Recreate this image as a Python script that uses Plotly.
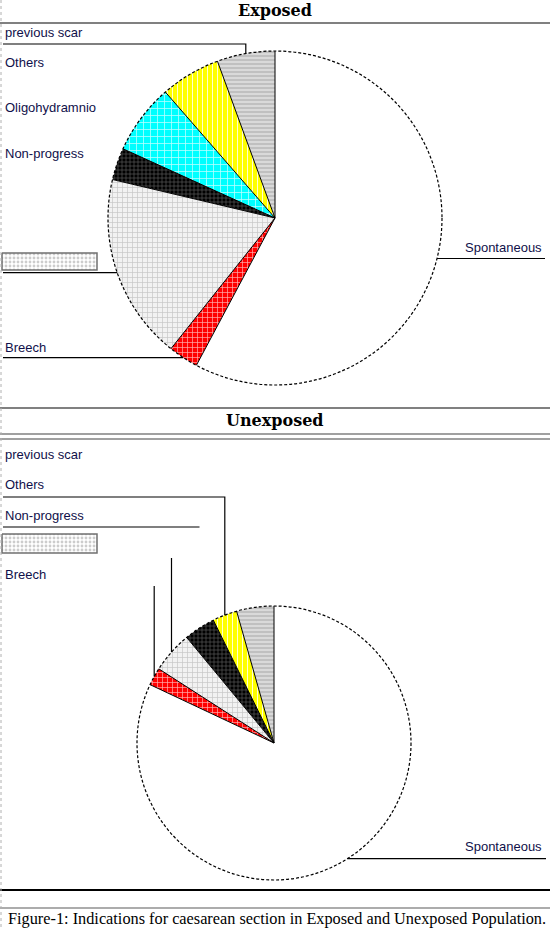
import math
import plotly.graph_objects as go

# slice order follows the pie, counterclockwise from 12 o'clock
labels_exposed = ["previous scar", "Others", "Oligohydramnio", "Non-progress",
                  "unlabelled", "Breech", "Spontaneous"]
values_exposed = [5.6, 5.8, 6.8, 3.1, 18.0, 2.9, 57.8]

labels_unexposed = ["previous scar", "Others", "Non-progress",
                    "unlabelled", "Breech", "Spontaneous"]
values_unexposed = [4.4, 2.9, 3.7, 4.9, 2.1, 82.0]

W, H = 550, 929

# look of each indication
style = {
    "previous scar":  dict(bg="#c0c0c0", fg="#e4e4e4", shape="-", size=4, sol=0.35),
    "Others":         dict(bg="#ffff00", fg="#ffffd0", shape="|", size=5, sol=0.2),
    "Oligohydramnio": dict(bg="#00ffff", fg="#c0ffff", shape="+", size=7, sol=0.2),
    "Non-progress":   dict(bg="#000000", fg="#5a5a5a", shape="+", size=4, sol=0.3),
    "unlabelled":     dict(bg="#f2f2f2", fg="#c4c4c4", shape="+", size=5, sol=0.25),
    "Breech":         dict(bg="#ff0000", fg="#ffb0b0", shape="+", size=5, sol=0.25),
    "Spontaneous":    dict(bg="#ffffff", fg="#ffffff", shape="", size=4, sol=0.2),
}


def pie_trace(labels, values, cx, cy, r):
    st = [style[l] for l in labels]
    # plotly ends the first counterclockwise slice at the rotation angle
    rot = -values[0] / sum(values) * 360
    return go.Pie(
        labels=labels, values=values, sort=False, direction="counterclockwise",
        rotation=rot, textinfo="none", hoverinfo="label+percent", showlegend=False,
        domain=dict(x=[(cx - r) / W, (cx + r) / W],
                    y=[1 - (cy + r) / H, 1 - (cy - r) / H]),
        marker=dict(
            colors=[s["bg"] for s in st],
            line=dict(width=0),
            pattern=dict(shape=[s["shape"] for s in st],
                         fgcolor=[s["fg"] for s in st],
                         bgcolor=[s["bg"] for s in st],
                         size=[s["size"] for s in st],
                         solidity=[s["sol"] for s in st],
                         fillmode="replace"),
        ),
    )


def arc_point(deg, cx, cy, r):
    a = math.radians(deg)
    return cx - r * math.sin(a), cy - r * math.cos(a)


def geometry(labels, values, cx, cy, r):
    tot = sum(values)
    edges, mids, acc = [0.0], {}, 0.0
    for l, v in zip(labels, values):
        mids[l] = arc_point((acc + v / 2) / tot * 360, cx, cy, r)
        acc += v
        edges.append(acc / tot * 360)
    return edges, mids


shapes = []


def outline(labels, values, cx, cy, r):
    edges, mids = geometry(labels, values, cx, cy, r)
    shapes.append(dict(type="circle", xref="x", yref="y", x0=cx - r, x1=cx + r,
                       y0=cy - r, y1=cy + r, layer="above",
                       line=dict(color="black", width=1.2, dash="3px,2px")))
    for e in edges[:-1]:
        x, y = arc_point(e, cx, cy, r)
        shapes.append(dict(type="line", xref="x", yref="y", x0=cx, y0=cy, x1=x, y1=y,
                           layer="above", line=dict(color="black", width=1)))
    return mids


def leader(pts):
    path = "M " + " L ".join(f"{x:.1f},{y:.1f}" for x, y in pts)
    shapes.append(dict(type="path", xref="x", yref="y", path=path, layer="above",
                       line=dict(color="black", width=1.2)))


CX_E, CY_E, R_E = 275, 218, 167
CX_U, CY_U, R_U = 274, 743, 137

fig = go.Figure()
fig.add_trace(pie_trace(labels_exposed, values_exposed, CX_E, CY_E, R_E))
fig.add_trace(pie_trace(labels_unexposed, values_unexposed, CX_U, CY_U, R_U))

me = outline(labels_exposed, values_exposed, CX_E, CY_E, R_E)
mu = outline(labels_unexposed, values_unexposed, CX_U, CY_U, R_U)

# leader lines, exposed
x, y = me["previous scar"]; leader([(3, 44), (x, 44), (x, y)])
x, y = me["unlabelled"]; leader([(3, y), (x, y)])
x, y = me["Breech"]; leader([(3, y), (x, y)])
x, y = me["Spontaneous"]; leader([(545, y), (x, y)])
# leader lines, unexposed
x, y = mu["Others"]; leader([(3, 497), (x, 497), (x, y)])
x, y = mu["Non-progress"]; leader([(3, 527), (x, 527)])
x, y = mu["unlabelled"]; leader([(x, 558), (x, y)])
x, y = mu["Breech"]; leader([(x, 586), (x, y)])
x, y = mu["Spontaneous"]; leader([(546, y), (x, y)])

# dotted boxes standing in for the unnamed indication
for y0, y1 in [(253, 270), (534, 553)]:
    fig.add_trace(go.Scatter(
        x=[2, 97, 97, 2, 2], y=[y0, y0, y1, y1, y0], mode="lines", fill="toself",
        fillcolor="white", line=dict(color="#707070", width=1.5),
        fillpattern=dict(shape=".", fgcolor="#9a9a9a", bgcolor="white", size=4, solidity=0.4),
        hoverinfo="skip", showlegend=False))

# frame rules
rules = [(23, "#808080", 2), (408, "#808080", 2), (434, "#808080", 1.5),
         (439, "#808080", 1.5), (890, "black", 2), (908, "#909090", 1.5)]
for yy, col, wd in rules:
    shapes.append(dict(type="line", xref="x", yref="y", x0=0, x1=W, y0=yy, y1=yy,
                       layer="above", line=dict(color=col, width=wd)))
shapes.append(dict(type="line", xref="x", yref="y", x0=1, x1=1, y0=0, y1=H,
                   layer="above", line=dict(color="#b0b0b0", width=1, dash="dot")))

sans = dict(family="Liberation Sans, Arial, sans-serif", size=13, color="#10104a")
annotations = []
for txt, yy in [("previous scar", 32), ("Others", 62), ("Oligohydramnio", 107),
                ("Non-progress", 153), ("Breech", 347),
                ("previous scar", 454), ("Others", 484), ("Non-progress", 515),
                ("Breech", 574)]:
    annotations.append(dict(text=txt, x=3, y=yy, xref="x", yref="y", xanchor="left",
                            yanchor="middle", showarrow=False, font=sans))
for yy in [247, 846]:
    annotations.append(dict(text="Spontaneous", x=544, y=yy, xref="x", yref="y",
                            xanchor="right", yanchor="middle", showarrow=False, font=sans))

head = dict(family="DejaVu Serif, serif", size=16, color="black")
annotations.append(dict(text="<b>Exposed</b>", x=275, y=10, xref="x", yref="y",
                        showarrow=False, font=head, yanchor="middle"))
annotations.append(dict(text="<b>Unexposed</b>", x=275, y=420, xref="x", yref="y",
                        showarrow=False, font=head, yanchor="middle"))
annotations.append(dict(
    text="Figure-1: Indications for caesarean section in Exposed and Unexposed Population.",
    x=6, y=918, xref="x", yref="y", xanchor="left", yanchor="middle", showarrow=False,
    font=dict(family="Liberation Serif, Times New Roman, serif", size=16.3, color="black")))

fig.update_layout(
    width=W, height=H, margin=dict(l=0, r=0, t=0, b=0),
    paper_bgcolor="white", plot_bgcolor="white",
    xaxis=dict(range=[0, W], visible=False, fixedrange=True),
    yaxis=dict(range=[H, 0], visible=False, fixedrange=True),
    shapes=shapes, annotations=annotations,
)

fig.write_html("out.html", config={"displayModeBar": False},
               post_script="document.body.style.margin='0';")
